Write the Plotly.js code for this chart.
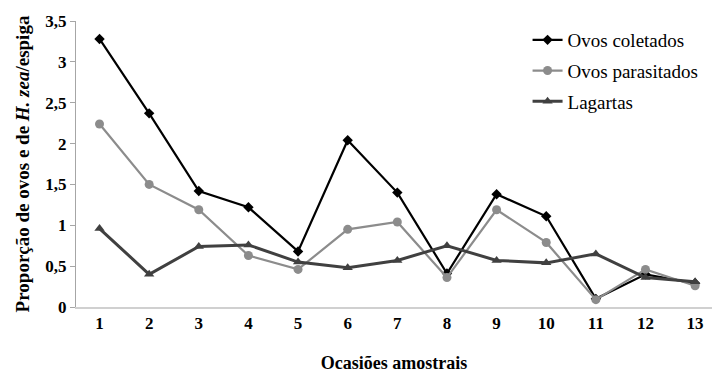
<!DOCTYPE html>
<html><head><meta charset="utf-8">
<script src="https://cdn.plot.ly/plotly-3.0.1.min.js"></script>
<style>html,body{margin:0;padding:0;background:#fff}#chart{width:712px;height:373px}</style>
</head><body><div id="chart"></div>
<script>
const occasions = [1,2,3,4,5,6,7,8,9,10,11,12,13];
const ovosColetados = [3.28,2.37,1.42,1.22,0.68,2.04,1.40,0.41,1.38,1.11,0.10,0.40,0.29];
const ovosParasitados = [2.24,1.50,1.19,0.63,0.46,0.95,1.04,0.36,1.19,0.79,0.09,0.46,0.26];
const lagartas = [0.96,0.40,0.74,0.76,0.55,0.48,0.57,0.75,0.57,0.54,0.65,0.36,0.31];
const seriesNames = ['Ovos coletados','Ovos parasitados','Lagartas'];
const FAM = 'Liberation Serif, Times New Roman, serif';

const traces = [
  {x: occasions, y: ovosColetados, name: seriesNames[0], legendgroup:'a', type:'scatter', mode:'lines+markers',
   line:{color:'#000000', width:2.2}, marker:{symbol:'diamond', size:8, color:'#000000'}},
  {x: occasions, y: ovosParasitados, name: seriesNames[1], legendgroup:'b', type:'scatter', mode:'lines+markers',
   line:{color:'#8c8c8c', width:2.2}, marker:{symbol:'circle', size:9, color:'#8c8c8c'}},
  {x: occasions, y: lagartas, name: seriesNames[2], legendgroup:'c', type:'scatter', mode:'lines+markers',
   line:{color:'#404040', width:3}, marker:{symbol:'triangle-up', size:9, color:'#404040'}}
];

const layout = {
  width:712, height:373,
  margin:{l:76, r:0, t:21, b:66},
  paper_bgcolor:'#ffffff', plot_bgcolor:'#ffffff',
  separators:',.',
  font:{family:FAM, color:'#000000', size:17},
  showlegend:true,
  legend:{x:0.71, xanchor:'left', y:1.0, yanchor:'top', font:{family:FAM, size:19, color:'#000'},
          tracegroupgap:3, bgcolor:'rgba(0,0,0,0)'},
  xaxis:{range:[0.526,13.34], tickmode:'array', tickvals:occasions, ticktext:occasions.map(String),
         showgrid:false, zeroline:false, showline:true, linecolor:'#d0d0d0', linewidth:1.5,
         ticks:'', tickfont:{family:FAM, size:17, weight:'bold', color:'#000'},
         title:{text:'<b>Ocasiões amostrais</b>', font:{family:FAM, size:18, color:'#000'}, standoff:26}},
  yaxis:{range:[0,3.5], dtick:0.5, showgrid:false, zeroline:false, showline:true, linecolor:'#a6a6a6', linewidth:1,
         ticks:'outside', ticklen:5, tickcolor:'#a6a6a6', tickfont:{family:FAM, size:17, weight:'bold', color:'#000'},
         title:{text:'<b>Proporção de ovos e de <i>H. zea</i>/espiga</b>', font:{family:FAM, size:19, color:'#000'}, standoff:10}}
};
Plotly.newPlot('chart', traces, layout, {staticPlot:true, displayModeBar:false});
</script></body></html>
